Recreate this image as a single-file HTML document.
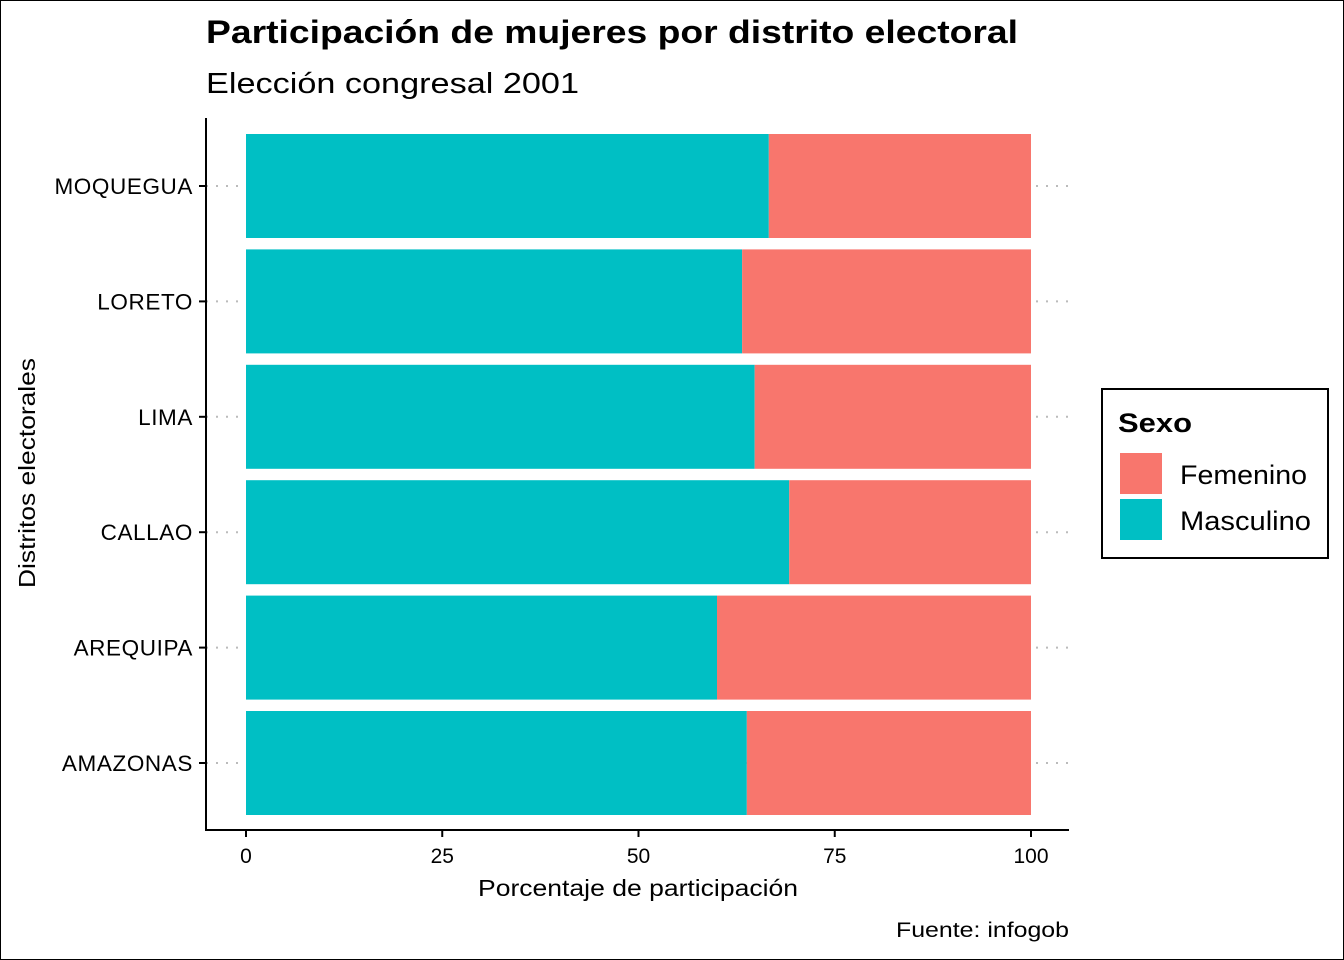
<!DOCTYPE html>
<html><head><meta charset="utf-8"><style>
body{margin:0;background:#fff}
svg{display:block;font-family:"Liberation Sans",Arial,sans-serif}
</style></head><body>
<svg id="chart" width="1344" height="960" viewBox="0 0 1344 960">
<rect x="0.5" y="0.5" width="1343" height="959" fill="#fff" stroke="#000"/>
<text x="206" y="43" font-size="32" font-weight="bold" textLength="812" lengthAdjust="spacingAndGlyphs">Participación de mujeres por distrito electoral</text>
<text x="206" y="93" font-size="29" textLength="373" lengthAdjust="spacingAndGlyphs">Elección congresal 2001</text>
<g id="grid"></g>
<g id="bars"></g>
<g id="axes"></g>
<text x="478" y="896" font-size="23" textLength="320" lengthAdjust="spacingAndGlyphs">Porcentaje de participación</text>
<text transform="translate(35,588) rotate(-90)" font-size="23" textLength="230" lengthAdjust="spacingAndGlyphs">Distritos electorales</text>
<text x="896" y="937" font-size="21" textLength="173" lengthAdjust="spacingAndGlyphs">Fuente: infogob</text>
<g>
<rect x="1102" y="389" width="226" height="169" fill="#fff" stroke="#000" stroke-width="2"/>
<text x="1118" y="432" font-size="27" font-weight="bold" textLength="74" lengthAdjust="spacingAndGlyphs">Sexo</text>
<rect x="1120" y="453" width="42" height="41" fill="#F8766D"/>
<text x="1180" y="484" font-size="27" textLength="127" lengthAdjust="spacingAndGlyphs">Femenino</text>
<rect x="1120" y="499" width="42" height="41" fill="#00BFC4"/>
<text x="1180" y="530" font-size="27" textLength="131" lengthAdjust="spacingAndGlyphs">Masculino</text>
</g>
</svg>
<script>
const categories = ["AMAZONAS","AREQUIPA","CALLAO","LIMA","LORETO","MOQUEGUA"];
const masculino = [63.8, 60.0, 69.2, 64.8, 63.2, 66.6];
const xTicks = [0, 25, 50, 75, 100];
const NS = "http://www.w3.org/2000/svg";
const x = v => 246 + v * 7.85;
const step = 115.4;
const y = i => 763 - i * step;
const barH = 104;
function mk(tag, attrs, parent){const e=document.createElementNS(NS,tag);for(const k in attrs)e.setAttribute(k,attrs[k]);parent.appendChild(e);return e;}
const grid=document.getElementById('grid'), bars=document.getElementById('bars'), axes=document.getElementById('axes');
categories.forEach((c,i)=>{
  const g=mk('line',{x1:206,x2:1069,y1:y(i),y2:y(i),stroke:'#bbb','stroke-width':2,'stroke-dasharray':'2 8'},grid);
  
  
  const m=mk('rect',{x:x(0),y:y(i)-barH/2,width:x(masculino[i])-x(0),height:barH,fill:'#00BFC4'},bars);
  
  
  const f=mk('rect',{x:x(masculino[i]),y:y(i)-barH/2,width:x(100)-x(masculino[i]),height:barH,fill:'#F8766D'},bars);
  
  
  const t=mk('line',{x1:199,x2:206,y1:y(i),y2:y(i),stroke:'#000','stroke-width':2},axes);
  
  
  const l=mk('text',{x:193,y:y(i)+8,'font-size':22.5,'text-anchor':'end','letter-spacing':'0.6'},axes);
  l.textContent=c;
  
  
});
const ya=mk('line',{x1:206,x2:206,y1:118,y2:831,stroke:'#000','stroke-width':2},axes);


const xa=mk('line',{x1:205,x2:1069,y1:830,y2:830,stroke:'#000','stroke-width':2},axes);


xTicks.forEach(v=>{
  const t=mk('line',{x1:x(v),x2:x(v),y1:830,y2:837,stroke:'#000','stroke-width':2},axes);
  
  
  const l=mk('text',{x:x(v),y:863,'font-size':21,'text-anchor':'middle'},axes);
  l.textContent=v;
  
  
});
</script>
</body></html>
